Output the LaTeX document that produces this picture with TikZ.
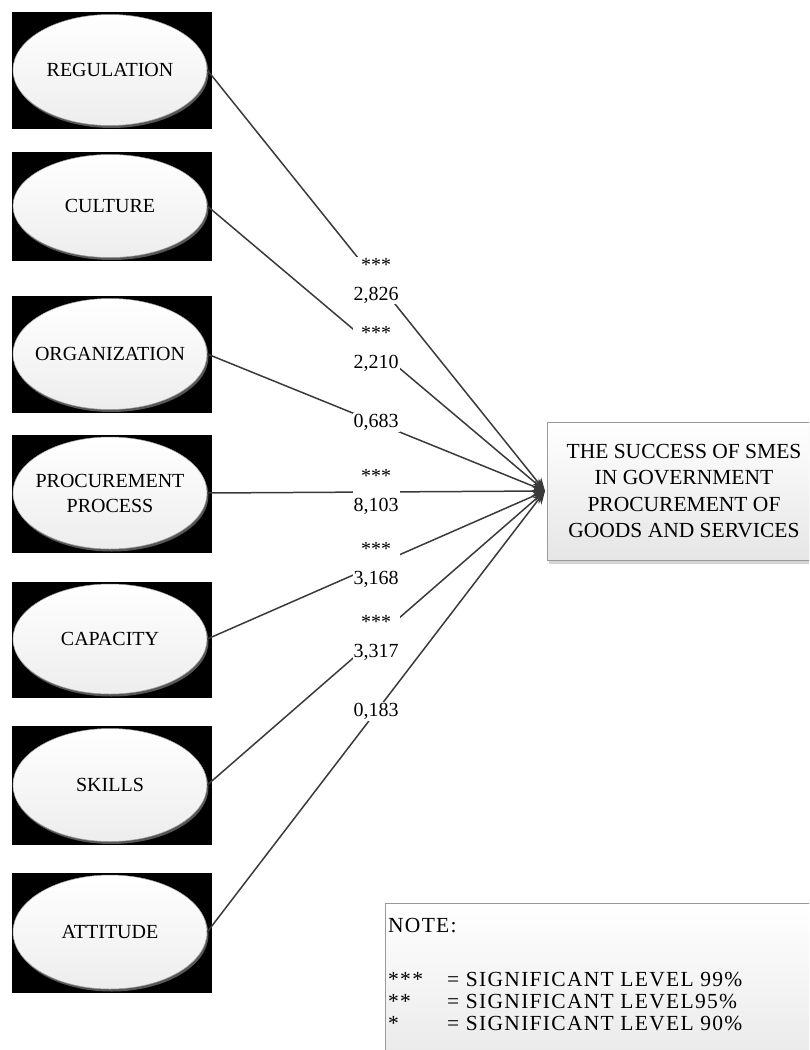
\documentclass[tikz,border=0pt]{standalone}
\usepackage{fontspec}
\setmainfont{Liberation Serif}
\newfontfamily\notefont[LetterSpace=6]{Liberation Serif}
\usetikzlibrary{shapes.geometric,shadows,arrows.meta}
\definecolor{lin}{HTML}{3A3A3A}
\begin{document}
\begin{tikzpicture}[x=1pt,y=-1pt,
  ell/.style={ellipse, minimum width=194pt, inner sep=0pt, top color=white, bottom color=gray!14,
    draw=gray!75, line width=0.5pt,
    drop shadow={shadow xshift=1.5pt, shadow yshift=-2.5pt, fill=gray!65}},
  etxt/.style={inner sep=0pt, font=\fontsize{20}{25}\selectfont, align=center},
  blackbox/.style={fill=black},
  conn/.style={draw=lin, line width=1.5pt, -{Stealth[length=13pt,width=11pt]}},
  lbl/.style={fill=white, inner sep=1pt, align=center, font=\fontsize{20}{29}\selectfont, pos=0.5, text=black},
  target/.style={rectangle, minimum width=274pt, minimum height=138pt, inner sep=0pt,
    top color=white, bottom color=gray!20, draw=gray!80, line width=0.6pt,
    drop shadow={shadow xshift=2pt, shadow yshift=-4pt, fill=gray!65},
    font=\fontsize{21.5}{26.5}\selectfont, align=center},
  notebox/.style={rectangle, minimum width=430pt, minimum height=150pt, inner sep=0pt,
    top color=white, bottom color=gray!16, draw=gray!80, line width=0.6pt},
  notetxt/.style={anchor=base west, inner sep=0pt, font=\notefont\fontsize{21.5}{24}\selectfont}
]
\useasboundingbox (0,0) rectangle (809,1050);
\clip (0,0) rectangle (809,1050);

% black background rectangles
\fill[blackbox] (12,12) rectangle (212,129);
\fill[blackbox] (12,152) rectangle (212,261);
\fill[blackbox] (12,296) rectangle (212,413);
\fill[blackbox] (12,435) rectangle (212,553);
\fill[blackbox] (12,582) rectangle (212,698);
\fill[blackbox] (12,726) rectangle (212,845);
\fill[blackbox] (12,873) rectangle (212,993);

% ellipses
\node[ell, minimum height=111pt] (reg) at (110,70) {};
\node[ell, minimum height=103pt] (cul) at (110,206) {};
\node[ell, minimum height=111pt] (org) at (110,354) {};
\node[ell, minimum height=112pt] (pro) at (110,493) {};
\node[ell, minimum height=110pt] (cap) at (110,639) {};
\node[ell, minimum height=113pt] (ski) at (110,785) {};
\node[ell, minimum height=114pt] (att) at (110,932) {};
\node[etxt] (regt) at (reg) {REGULATION};
\node[etxt] (cult) at (cul) {CULTURE};
\node[etxt] (orgt) at (org) {ORGANIZATION};
\node[etxt] (prot) at (pro) {PROCUREMENT\\PROCESS};
\node[etxt] (capt) at (cap) {CAPACITY};
\node[etxt] (skit) at (ski) {SKILLS};
\node[etxt] (attt) at (att) {ATTITUDE};

% target
\node[target] (succ) at (684,491) {THE SUCCESS OF SMES\\IN GOVERNMENT\\PROCUREMENT OF\\GOODS AND SERVICES};
\coordinate (T) at (545,491);

% connectors
\draw[conn] (reg.east) -- node[lbl] {***\\2,826} (T);
\draw[conn] (cul.east) -- node[lbl] {***\\2,210} (T);
\draw[conn] (org.east) -- node[lbl] {0,683} (T);
\draw[conn] (pro.east) -- node[lbl] {***\\8,103} (T);
\draw[conn] (cap.east) -- node[lbl] {***\\3,168} (T);
\draw[conn] (ski.east) -- node[lbl] {***\\3,317} (T);
\draw[conn] (att.east) -- node[lbl] {0,183} (T);

% note
\node[notebox, anchor=north west] (note) at (385,903) {};
\node[notetxt] (n0) at (388,932) {NOTE:};
\node[notetxt] (a1) at (388,986) {***};
\node[notetxt] (t1) at (447,986) {= SIGNIFICANT LEVEL 99\%};
\node[notetxt] (a2) at (388,1008) {**};
\node[notetxt] (t2) at (447,1008) {= SIGNIFICANT LEVEL95\%};
\node[notetxt] (a3) at (388,1030) {*};
\node[notetxt] (t3) at (447,1030) {= SIGNIFICANT LEVEL 90\%};
\end{tikzpicture}
\end{document}
